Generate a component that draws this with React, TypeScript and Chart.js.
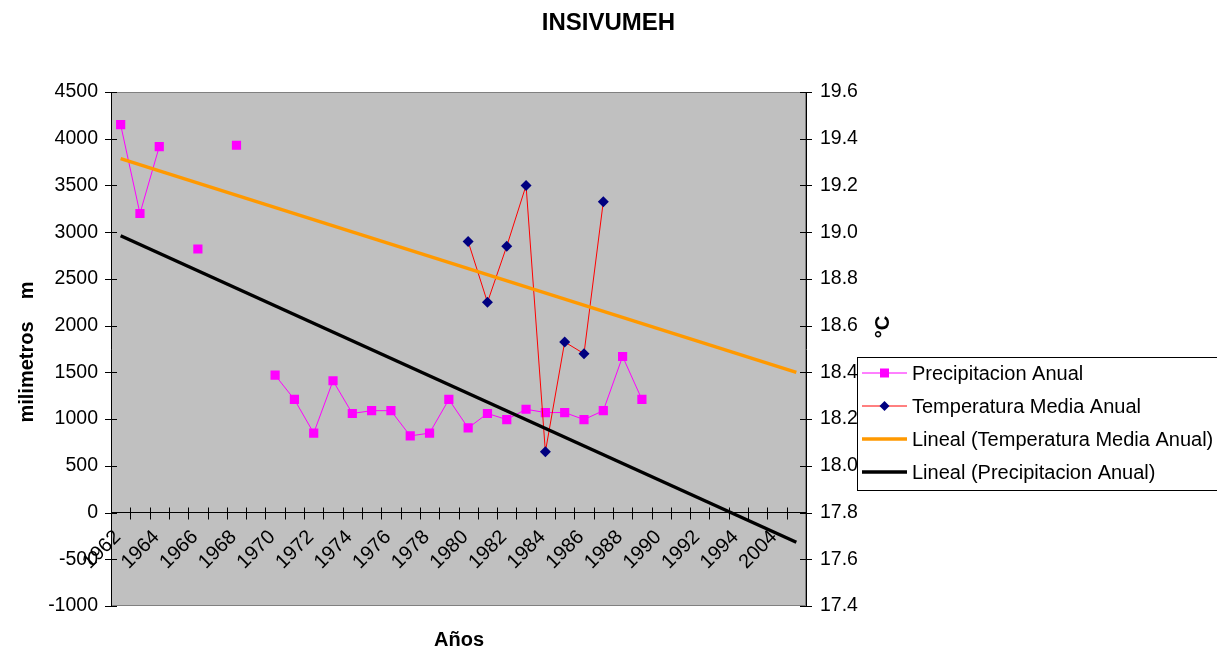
import React, { useEffect, useRef } from "react";
import { Chart, registerables } from "chart.js";

Chart.register(...registerables);

const FONT = "'Liberation Sans', Arial, sans-serif";

const years = [
  "1962", "1963", "1964", "1965", "1966", "1967", "1968", "1969", "1970", "1971",
  "1972", "1973", "1974", "1975", "1976", "1977", "1978", "1979", "1980", "1981",
  "1982", "1983", "1984", "1985", "1986", "1987", "1988", "1989", "1990", "1991",
  "1992", "1993", "1994", "2000", "2004", "2008",
];

const precipitacion: (number | null)[] = [
  4150, 3200, 3915, null, 2820, null, 3930, null, 1470, 1210,
  850, 1410, 1060, 1090, 1090, 820, 850, 1210, 905, 1060,
  995, 1105, 1070, 1070, 995, 1090, 1670, 1210, null, null,
  null, null, null, null, null, null,
];

const temperatura: (number | null)[] = [
  null, null, null, null, null, null, null, null, null, null,
  null, null, null, null, null, null, null, null, 18.96, 18.70,
  18.94, 19.20, 18.06, 18.53, 18.48, 19.13, null, null, null, null,
  null, null, null, null, null, null,
];

// trend line values at the first and last category
const tendenciaTemperatura = [19.315, 18.40];
const tendenciaPrecipitacion = [2962, -318];

const leftTicks = { min: -1000, max: 4500, step: 500 };
const rightTicks = { min: 17.4, max: 19.6, step: 0.2 };

const legendItems = [
  "Precipitacion Anual",
  "Temperatura Media Anual",
  "Lineal (Temperatura Media Anual)",
  "Lineal (Precipitacion Anual)",
];

const endsToSeries = (ends: number[]) =>
  years.map((_, i) => (i === 0 ? ends[0] : i === years.length - 1 ? ends[1] : null));

const decorPlugin = {
  id: "decor",
  beforeDraw(chart: any) {
    const { ctx, chartArea: a } = chart;
    ctx.save();
    ctx.fillStyle = "#C0C0C0";
    ctx.fillRect(a.left, a.top, a.right - a.left, a.bottom - a.top);
    ctx.strokeStyle = "#808080";
    ctx.lineWidth = 1;
    ctx.strokeRect(a.left + 0.5, a.top + 0.5, a.right - a.left - 1, a.bottom - a.top - 1);
    ctx.restore();
  },
  beforeDatasetsDraw(chart: any) {
    const { ctx, chartArea: a, scales } = chart;
    ctx.save();
    ctx.strokeStyle = "#000";
    ctx.lineWidth = 1;
    ctx.beginPath();
    scales.y.ticks.forEach((_t: any, i: number) => {
      const p = Math.round(scales.y.getPixelForTick(i)) + 0.5;
      ctx.moveTo(a.left - 6, p);
      ctx.lineTo(a.left + 6, p);
    });
    scales.y1.ticks.forEach((_t: any, i: number) => {
      const p = Math.round(scales.y1.getPixelForTick(i)) + 0.5;
      ctx.moveTo(a.right - 6, p);
      ctx.lineTo(a.right + 6, p);
    });
    const y0 = Math.round(scales.y.getPixelForValue(0)) + 0.5;
    for (let i = 0; i <= years.length; i++) {
      const px = Math.round(scales.x.getPixelForValue(i - 0.5)) + 0.5;
      ctx.moveTo(px, y0 - 6);
      ctx.lineTo(px, y0 + 6);
    }
    ctx.stroke();
    ctx.restore();
  },
  afterDraw(chart: any) {
    const { ctx } = chart;
    ctx.save();
    ctx.fillStyle = "#000";
    // axis titles
    ctx.font = `bold 20px ${FONT}`;
    ctx.textAlign = "center";
    ctx.textBaseline = "middle";
    ctx.save();
    ctx.translate(27, 352);
    ctx.rotate(-Math.PI / 2);
    ctx.fillText("milimetros    m", 0, 0);
    ctx.restore();
    ctx.save();
    ctx.translate(883, 327);
    ctx.rotate(-Math.PI / 2);
    ctx.fillText("°C", 0, 0);
    ctx.restore();
    ctx.fillText("Años", 459, 640);

    // legend
    const ds = chart.data.datasets;
    const bx = 857.5, by = 357.5;
    ctx.fillStyle = "#FFFFFF";
    ctx.fillRect(bx, by, 420, 133);
    ctx.strokeStyle = "#000";
    ctx.lineWidth = 1;
    ctx.strokeRect(bx, by, 420, 133);
    const rows = [373, 406, 439, 472];
    ctx.font = `20px ${FONT}`;
    ctx.textAlign = "left";
    legendItems.forEach((label, i) => {
      const d = ds[i];
      const y = rows[i];
      ctx.strokeStyle = d.borderColor;
      ctx.lineWidth = d.borderWidth;
      ctx.beginPath();
      ctx.moveTo(862, y);
      ctx.lineTo(907, y);
      ctx.stroke();
      if (i === 0) {
        ctx.fillStyle = d.pointBackgroundColor;
        ctx.fillRect(884.5 - 4.5, y - 4.5, 9, 9);
      } else if (i === 1) {
        ctx.fillStyle = d.pointBackgroundColor;
        ctx.beginPath();
        ctx.moveTo(884.5 - 5, y);
        ctx.lineTo(884.5, y - 5);
        ctx.lineTo(884.5 + 5, y);
        ctx.lineTo(884.5, y + 5);
        ctx.closePath();
        ctx.fill();
      }
      ctx.fillStyle = "#000";
      ctx.fillText(label, 912, y + 1);
    });
    ctx.restore();
  },
};

export default function App() {
  const canvasRef = useRef<HTMLCanvasElement | null>(null);

  useEffect(() => {
    document.body.style.margin = "0";
    const canvas = canvasRef.current;
    if (!canvas) return;
    const chart = new Chart(canvas, {
      type: "line",
      data: {
        labels: years,
        datasets: [
          {
            label: legendItems[0],
            data: precipitacion,
            yAxisID: "y",
            borderColor: "#FF00FF",
            backgroundColor: "#FF00FF",
            borderWidth: 1,
            pointStyle: "rect",
            pointRadius: 6.5,
            pointBackgroundColor: "#FF00FF",
            pointBorderColor: "#FF00FF",
            pointBorderWidth: 0,
            spanGaps: false,
            tension: 0,
            order: 3,
          },
          {
            label: legendItems[1],
            data: temperatura,
            yAxisID: "y1",
            borderColor: "#FF0000",
            backgroundColor: "#000080",
            borderWidth: 1,
            pointStyle: "rectRot",
            pointRadius: 5.5,
            pointBackgroundColor: "#000080",
            pointBorderColor: "#000080",
            pointBorderWidth: 0,
            spanGaps: false,
            tension: 0,
            order: 2,
          },
          {
            label: legendItems[2],
            data: endsToSeries(tendenciaTemperatura),
            yAxisID: "y1",
            borderColor: "#FF9900",
            backgroundColor: "#FF9900",
            borderWidth: 3.5,
            pointRadius: 0,
            spanGaps: true,
            tension: 0,
            order: 1,
          },
          {
            label: legendItems[3],
            data: endsToSeries(tendenciaPrecipitacion),
            yAxisID: "y",
            borderColor: "#000000",
            backgroundColor: "#000000",
            borderWidth: 3.5,
            pointRadius: 0,
            spanGaps: true,
            tension: 0,
            order: 0,
          },
        ],
      },
      options: {
        responsive: false,
        devicePixelRatio: 1,
        animation: false,
        events: [],
        layout: { padding: { left: 0, right: 0, top: 0, bottom: 49 } },
        plugins: {
          legend: { display: false },
          tooltip: { enabled: false },
          title: {
            display: true,
            text: "INSIVUMEH",
            color: "#000",
            font: { family: FONT, size: 24, weight: "bold" },
            padding: { top: 9, bottom: 54.2 },
          },
        },
        scales: {
          x: {
            type: "category",
            position: { y: 0 } as any,
            offset: true,
            grid: { display: false, drawTicks: false, drawOnChartArea: false, offset: true },
            border: { display: true, color: "#000", width: 1 },
            ticks: {
              autoSkip: false,
              maxRotation: 45,
              minRotation: 45,
              padding: 13,
              labelOffset: -3,
              color: "#000",
              font: { family: FONT, size: 20 },
              callback: (_v: any, i: number) => (i % 2 === 0 ? years[i] : ""),
            },
          },
          y: {
            type: "linear",
            position: "left",
            min: leftTicks.min,
            max: leftTicks.max,
            grid: { display: false, drawTicks: false, drawOnChartArea: false },
            border: { display: true, color: "#000", width: 1 },
            ticks: {
              stepSize: leftTicks.step,
              maxTicksLimit: 30,
              padding: 13,
              color: "#000",
              font: { family: FONT, size: 19.5 },
              callback: (v: any) => String(v),
            },
            afterFit: (s: any) => {
              s.width = 111;
            },
          },
          y1: {
            type: "linear",
            position: "right",
            min: rightTicks.min,
            max: rightTicks.max,
            grid: { display: false, drawTicks: false, drawOnChartArea: false },
            border: { display: true, color: "#000", width: 1 },
            ticks: {
              stepSize: rightTicks.step,
              maxTicksLimit: 30,
              padding: 14,
              color: "#000",
              font: { family: FONT, size: 19.5 },
              callback: (v: any) => Number(v).toFixed(1),
            },
            afterFit: (s: any) => {
              s.width = 411;
            },
          },
        },
      },
      plugins: [decorPlugin],
    });
    return () => chart.destroy();
  }, []);

  return (
    <div style={{ width: 1217, height: 655 }}>
      <canvas ref={canvasRef} width={1217} height={655} style={{ display: "block" }} />
    </div>
  );
}
